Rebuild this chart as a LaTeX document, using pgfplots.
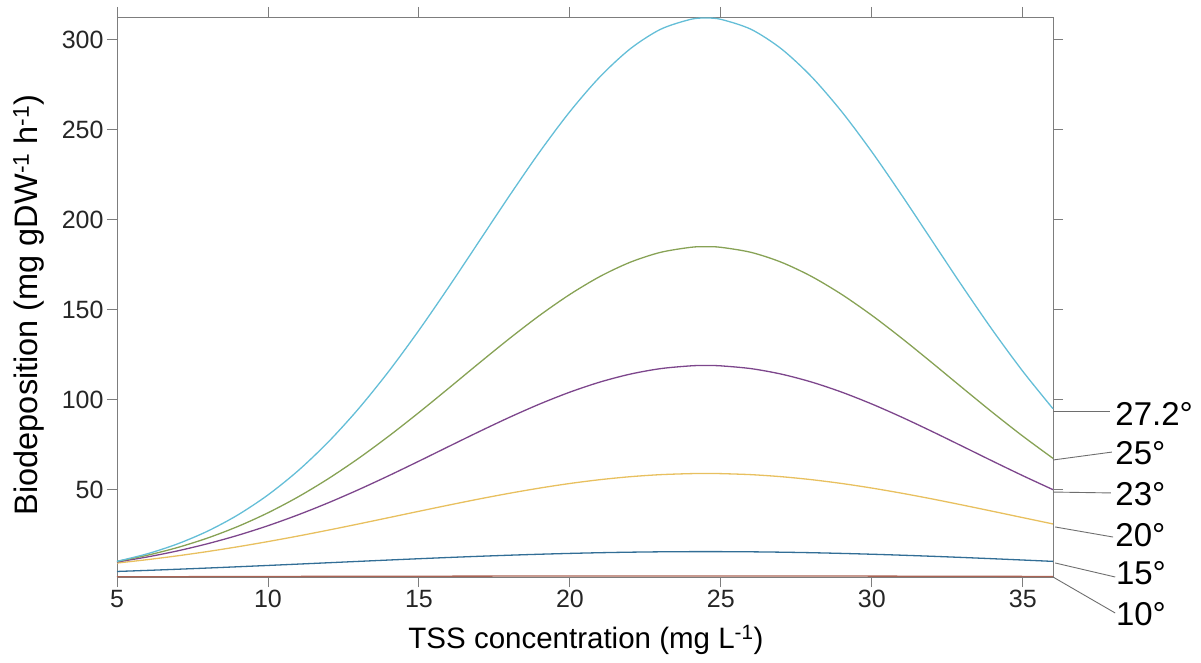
\documentclass[border=0pt]{standalone}
\usepackage{fontspec}
\setmainfont{Liberation Sans}
\usepackage{pgfplots}
\pgfplotsset{compat=1.18}
\definecolor{cA}{RGB}{100,190,215}
\definecolor{cB}{RGB}{135,162,85}
\definecolor{cC}{RGB}{125,70,140}
\definecolor{cD}{RGB}{232,192,95}
\definecolor{cE}{RGB}{50,110,150}
\definecolor{cF}{RGB}{170,100,85}
\definecolor{axg}{RGB}{125,125,125}
\definecolor{leadg}{RGB}{110,110,110}
\begin{document}
\begin{tikzpicture}
\useasboundingbox (-117pt,-85pt) rectangle (1084pt,577pt);
\begin{axis}[
  scale only axis,
  width=936pt, height=560pt,
  xmin=5, xmax=36, ymin=1.5, ymax=312.6,
  xtick={5,10,15,20,25,30,35},
  ytick={50,100,150,200,250,300},
  xtick pos=both, ytick pos=both,
  tick align=outside,
  major tick length=10pt,
  axis line style={axg, line width=0.9pt},
  every tick/.style={axg, line width=0.9pt},
  tick label style={font=\fontsize{25}{29}\selectfont, text=black!85},
  /pgf/number format/assume math mode=true,
  xlabel={TSS concentration (mg L\textsuperscript{-1})},
  ylabel={Biodeposition (mg gDW\textsuperscript{-1} h\textsuperscript{-1})},
  xlabel style={font=\fontsize{29.5}{34}\selectfont, at={(axis description cs:0.501,-0.1125)}, anchor=center},
  ylabel style={font=\fontsize{32.5}{36}\selectfont, at={(axis description cs:-0.094,0.486)}, anchor=center},
  clip=false,
  every axis plot/.append style={line width=1.3pt, smooth},
]
\addplot[cE] coordinates {(5,4.58)(6,5.17)(7,5.81)(8,6.48)(9,7.19)(10,7.92)(11,8.67)(12,9.42)(13,10.18)(14,10.93)(15,11.66)(16,12.36)(17,13.01)(18,13.61)(19,14.15)(20,14.61)(21,15.00)(22,15.29)(23,15.49)(24,15.59)(24.5,15.6)(25,15.59)(26,15.49)(27,15.29)(28,15.00)(29,14.61)(30,14.15)(31,13.61)(32,13.01)(33,12.36)(34,11.66)(35,10.93)(36,10.18)};
\addplot[cD] coordinates {(5,9.25)(6,11.13)(7,13.26)(8,15.65)(9,18.30)(10,21.18)(11,24.27)(12,27.55)(13,30.97)(14,34.48)(15,38.01)(16,41.49)(17,44.86)(18,48.02)(19,50.91)(20,53.46)(21,55.58)(22,57.23)(23,58.36)(24,58.93)(24.5,59)(25,58.93)(26,58.36)(27,57.23)(28,55.58)(29,53.46)(30,50.91)(31,48.02)(32,44.86)(33,41.49)(34,38.01)(35,34.48)(36,30.97)};
\addplot[cC] coordinates {(5,9.85)(6,12.63)(7,15.99)(8,19.99)(9,24.65)(10,30.00)(11,36.05)(12,42.74)(13,50.02)(14,57.78)(15,65.87)(16,74.12)(17,82.31)(18,90.22)(19,97.60)(20,104.21)(21,109.82)(22,114.22)(23,117.26)(24,118.80)(24.5,119)(25,118.80)(26,117.26)(27,114.22)(28,109.82)(29,104.21)(30,97.60)(31,90.22)(32,82.31)(33,74.12)(34,65.87)(35,57.78)(36,50.02)};
\addplot[cB] coordinates {(5,10.15)(6,13.57)(7,17.86)(8,23.15)(9,29.56)(10,37.17)(11,46.02)(12,56.13)(13,67.41)(14,79.74)(15,92.89)(16,106.57)(17,120.42)(18,134.00)(19,146.86)(20,158.50)(21,168.49)(22,176.38)(23,181.85)(24,184.65)(24.5,185)(25,184.65)(26,181.85)(27,176.38)(28,168.49)(29,158.50)(30,146.86)(31,134.00)(32,120.42)(33,106.57)(34,92.89)(35,79.74)(36,67.41)};
\addplot[cA] coordinates {(5,10.21)(6,14.37)(7,19.87)(8,26.97)(9,35.96)(10,47.09)(11,60.58)(12,76.54)(13,94.98)(14,115.76)(15,138.57)(16,162.93)(17,188.14)(18,213.37)(19,237.69)(20,260.06)(21,279.46)(22,294.95)(23,305.75)(24,311.30)(24.5,312)(25,311.30)(26,305.75)(27,294.95)(28,279.46)(29,260.06)(30,237.69)(31,213.37)(32,188.14)(33,162.93)(34,138.57)(35,115.76)(36,94.98)};
\addplot[cF] coordinates {(5,1.6)(10,1.8)(15,1.95)(20,2.05)(24.5,2.1)(30,2.0)(36,1.8)};
% leader lines and labels
\draw[leadg, line width=0.9pt] (axis cs:36,93.7) -- (axis cs:37.9,93.7);
\draw[leadg, line width=0.9pt] (axis cs:36,66.5) -- (axis cs:37.95,70.9);
\draw[leadg, line width=0.9pt] (axis cs:36,48.7) -- (axis cs:37.92,48.2);
\draw[leadg, line width=0.9pt] (axis cs:36.07,29.3) -- (axis cs:37.99,23.7);
\draw[leadg, line width=0.9pt] (axis cs:36.07,9.3) -- (axis cs:38.06,1.5);
\draw[leadg, line width=0.9pt] (axis cs:36,1.5) -- (axis cs:38.06,-18.5);
\begin{scope}[every node/.style={anchor=west, inner sep=0pt, font=\fontsize{33}{36}\selectfont}]
\node at (axis cs:38.06,92.0) {27.2°};
\node at (axis cs:38.06,70.4) {25°};
\node at (axis cs:38.06,47.6) {23°};
\node at (axis cs:38.06,24.8) {20°};
\node at (axis cs:38.08,3.7) {15°};
\node at (axis cs:38.08,-19.1) {10°};
\end{scope}
\end{axis}
\end{tikzpicture}
\end{document}
